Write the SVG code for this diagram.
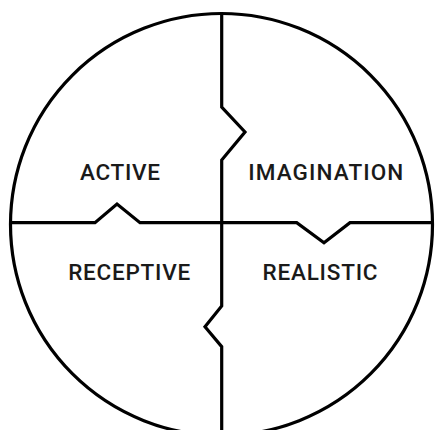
<svg xmlns="http://www.w3.org/2000/svg" width="435" height="430" viewBox="0 0 435 430">
<style>
.ln{fill:none;stroke:#000;stroke-width:3.2;stroke-linejoin:miter}
.lbl{font-family:Roboto,"Liberation Sans",sans-serif;font-weight:500;font-size:22.5px;fill:#1a1a1a;text-anchor:middle}
</style>
<rect width="435" height="430" fill="#fff"/>
<g id="connectors">
<circle class="ln" cx="221.5" cy="224.5" r="211"/>
<path class="ln" d="M221.7 13 L221.7 107 L245 132 L221.7 160 L221.7 306 L205 326.7 L221.7 346.7 L221.7 432"/>
<path class="ln" d="M10 222.7 L95 222.7 L117 204 L140 222.7 L296.7 222.7 L324 242.7 L350 222.7 L433 222.7"/>
</g>
<g id="active"><text class="lbl" x="120" y="180" textLength="80" lengthAdjust="spacing">ACTIVE</text></g>
<g id="imagination"><text class="lbl" x="325.8" y="180" textLength="155" lengthAdjust="spacing">IMAGINATION</text></g>
<g id="receptive"><text class="lbl" x="129.2" y="280" textLength="122" lengthAdjust="spacing">RECEPTIVE</text></g>
<g id="realistic"><text class="lbl" x="320" y="280" textLength="115" lengthAdjust="spacing">REALISTIC</text></g>
</svg>
